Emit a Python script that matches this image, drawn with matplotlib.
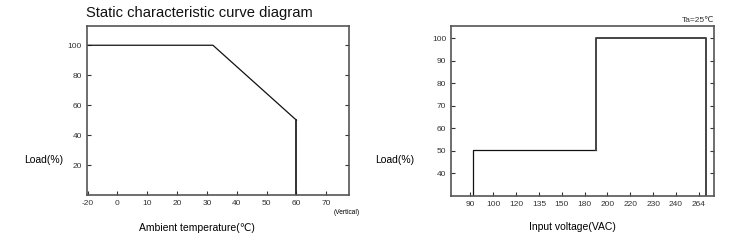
import numpy as np
import matplotlib
matplotlib.use("Agg")
import matplotlib.pyplot as plt

plt.rcParams['font.family'] = ['Liberation Sans', 'DejaVu Sans']

# left chart: derating over ambient temperature
temp = [-20, 32, 60, 60]
temp_load = [100, 100, 50, 0]
temp_ticks = [-20, 0, 10, 20, 30, 40, 50, 60, 70]
temp_yticks = [20, 40, 60, 80, 100]

# right chart: load over input voltage
volt = [91, 91, 190, 190, 272, 272]
volt_load = [30, 50.5, 50.5, 100, 100, 30]
volt_ticks = [90, 100, 120, 135, 150, 180, 200, 220, 230, 240, 264]
volt_yticks = [40, 50, 60, 70, 80, 90, 100]

# the -20..0 step is drawn with half the spacing of the others
def t_fwd(x):
    x = np.asarray(x, dtype=float)
    return np.where(x < 0, x / 2, x)

def t_inv(x):
    x = np.asarray(x, dtype=float)
    return np.where(x < 0, x * 2, x)

# voltage ticks are evenly spaced, whatever their value
v_anchor = [70] + volt_ticks + [288]
v_pos = list(range(-1, len(volt_ticks) + 1))

def v_fwd(x):
    return np.interp(x, v_anchor, v_pos)

def v_inv(x):
    return np.interp(x, v_pos, v_anchor)


spine_col = '#555555'
tick_col = '#333333'

fig = plt.figure(figsize=(7.41, 2.50), dpi=100)

ax1 = fig.add_axes([0.117, 0.219, 0.354, 0.678])
ax1.set_xscale('function', functions=(t_fwd, t_inv))
ax1.plot(temp[:3], temp_load[:3], color='#111111', lw=0.9)
ax1.plot(temp[2:], temp_load[2:], color='#222222', lw=1.3)
ax1.set_xlim(-20.6, 77.6)
ax1.set_ylim(0, 113)
ax1.set_xticks(temp_ticks)
ax1.set_xticklabels([str(t) for t in temp_ticks])
ax1.set_yticks(temp_yticks)
ax1.yaxis.set_ticks_position('both')
ax1.tick_params(axis='both', direction='in', length=3, width=0.8,
                labelsize=6, labelcolor=tick_col, color='#333333', pad=3.5)
for t in ax1.yaxis.get_major_ticks():
    t.tick2line.set_color('#5a5a90')
for s in ax1.spines.values():
    s.set_color(spine_col)
    s.set_linewidth(1.2)

ax2 = fig.add_axes([0.6086, 0.217, 0.355, 0.680])
ax2.set_xscale('function', functions=(v_fwd, v_inv))
ax2.plot(volt[:3], volt_load[:3], color='#111111', lw=0.9)
ax2.plot(volt[2:], volt_load[2:], color='#444444', lw=1.4)
ax2.set_xlim(73, 280)
ax2.set_ylim(30, 105.5)
ax2.set_xticks(volt_ticks)
ax2.set_xticklabels([str(v) for v in volt_ticks])
ax2.set_yticks(volt_yticks)
ax2.yaxis.set_ticks_position('both')
ax2.tick_params(axis='both', direction='in', length=3, width=0.8,
                labelsize=6, labelcolor=tick_col, color='#333333', pad=3.5)
for s in ax2.spines.values():
    s.set_color(spine_col)
    s.set_linewidth(1.2)

fig.text(86 / 741, 1 - 13 / 250, 'Static characteristic curve diagram',
         fontsize=10.6, ha='left', va='center', color='#111111')
fig.text(44 / 741, 1 - 160 / 250, 'Load(%)', fontsize=7.5, ha='center', va='center')
fig.text(197 / 741, 1 - 228 / 250, 'Ambient temperature(℃)', fontsize=7.5,
         ha='center', va='center')
fig.text(347 / 741, 1 - 213 / 250, '(Vertical)', fontsize=4.8, ha='center', va='center')
fig.text(395 / 741, 1 - 160 / 250, 'Load(%)', fontsize=7.5, ha='center', va='center')
fig.text(572 / 741, 1 - 227 / 250, 'Input voltage(VAC)', fontsize=7.5,
         ha='center', va='center')
fig.text(714 / 741, 1 - 20 / 250, 'Ta=25℃', fontsize=6, ha='right', va='center',
         color='#333333')

fig.savefig('out.png', dpi=100)
